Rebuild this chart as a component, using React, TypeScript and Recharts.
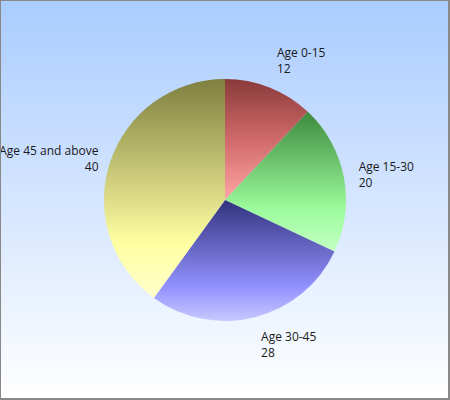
import { PieChart, Pie, Cell } from "recharts";

const groups = ["Age 0-15", "Age 15-30", "Age 30-45", "Age 45 and above"];
const counts = [12, 20, 28, 40];

// vertical gradient stops per slice: dark top -> base -> light bottom
const GRADIENTS = [
  [["0%", "#8a3a3a"], ["50%", "#d06a6a"], ["100%", "#ffa4a4"]],
  [["0%", "#3d8a3d"], ["70%", "#9cfc9c"], ["100%", "#c4ffc4"]],
  [["0%", "#32327e"], ["72%", "#9292ff"], ["100%", "#c8c8ff"]],
  [["0%", "#7f7f40"], ["75%", "#ffffa2"], ["100%", "#ffffcc"]],
];

const chartData = groups.map((name, i) => ({ name, value: counts[i] }));

const RADIAN = Math.PI / 180;

const renderLabel = (props: any) => {
  const { cx, cy, midAngle, outerRadius, name, value } = props;
  const r = outerRadius + 12;
  const sin = Math.sin(midAngle * RADIAN);
  const cos = Math.cos(midAngle * RADIAN);
  const ax = cx + r * cos;
  const ay = cy - r * sin;
  const right = cos >= 0;
  const x = right ? ax + 3 : ax;
  let y = ay - 4;
  if (sin > 0.5) y = ay - 19;
  else if (sin < -0.5) y = ay + 12;
  return (
    <text
      x={x}
      y={y}
      textAnchor={right ? "start" : "end"}
      fill="#1a1a1a"
      fontSize={12}
      fontFamily="'Open Sans', sans-serif"
    >
      <tspan x={x} dy={0}>{name}</tspan>
      <tspan x={x} dy={16}>{value}</tspan>
    </text>
  );
};

export default function App() {
  return (
    <div
      style={{
        position: "absolute",
        top: 0,
        left: 0,
        width: 450,
        height: 400,
        boxSizing: "border-box",
        borderTop: "1px solid #888",
        borderLeft: "1px solid #888",
        borderRight: "2px solid #888",
        borderBottom: "2px solid #888",
        background: "linear-gradient(to bottom, #aaccff, #ffffff)",
        overflow: "hidden",
      }}
    >
      <div style={{ position: "absolute", top: -1, left: -1 }}>
        <PieChart width={450} height={400} margin={{ top: 0, right: 0, bottom: 0, left: 0 }}>
          <defs>
            {GRADIENTS.map((stops, i) => (
              <linearGradient key={i} id={`slice${i}`} x1="0" y1="0" x2="0" y2="1">
                {stops.map(([off, col]) => (
                  <stop key={off} offset={off} stopColor={col} />
                ))}
              </linearGradient>
            ))}
          </defs>
          <Pie
            data={chartData}
            dataKey="value"
            nameKey="name"
            cx={225}
            cy={200}
            outerRadius={121}
            startAngle={90}
            endAngle={-270}
            stroke="none"
            label={renderLabel}
            labelLine={false}
            isAnimationActive={false}
          >
            {chartData.map((_, i) => (
              <Cell key={`cell-${i}`} fill={`url(#slice${i})`} />
            ))}
          </Pie>
        </PieChart>
      </div>
    </div>
  );
}
